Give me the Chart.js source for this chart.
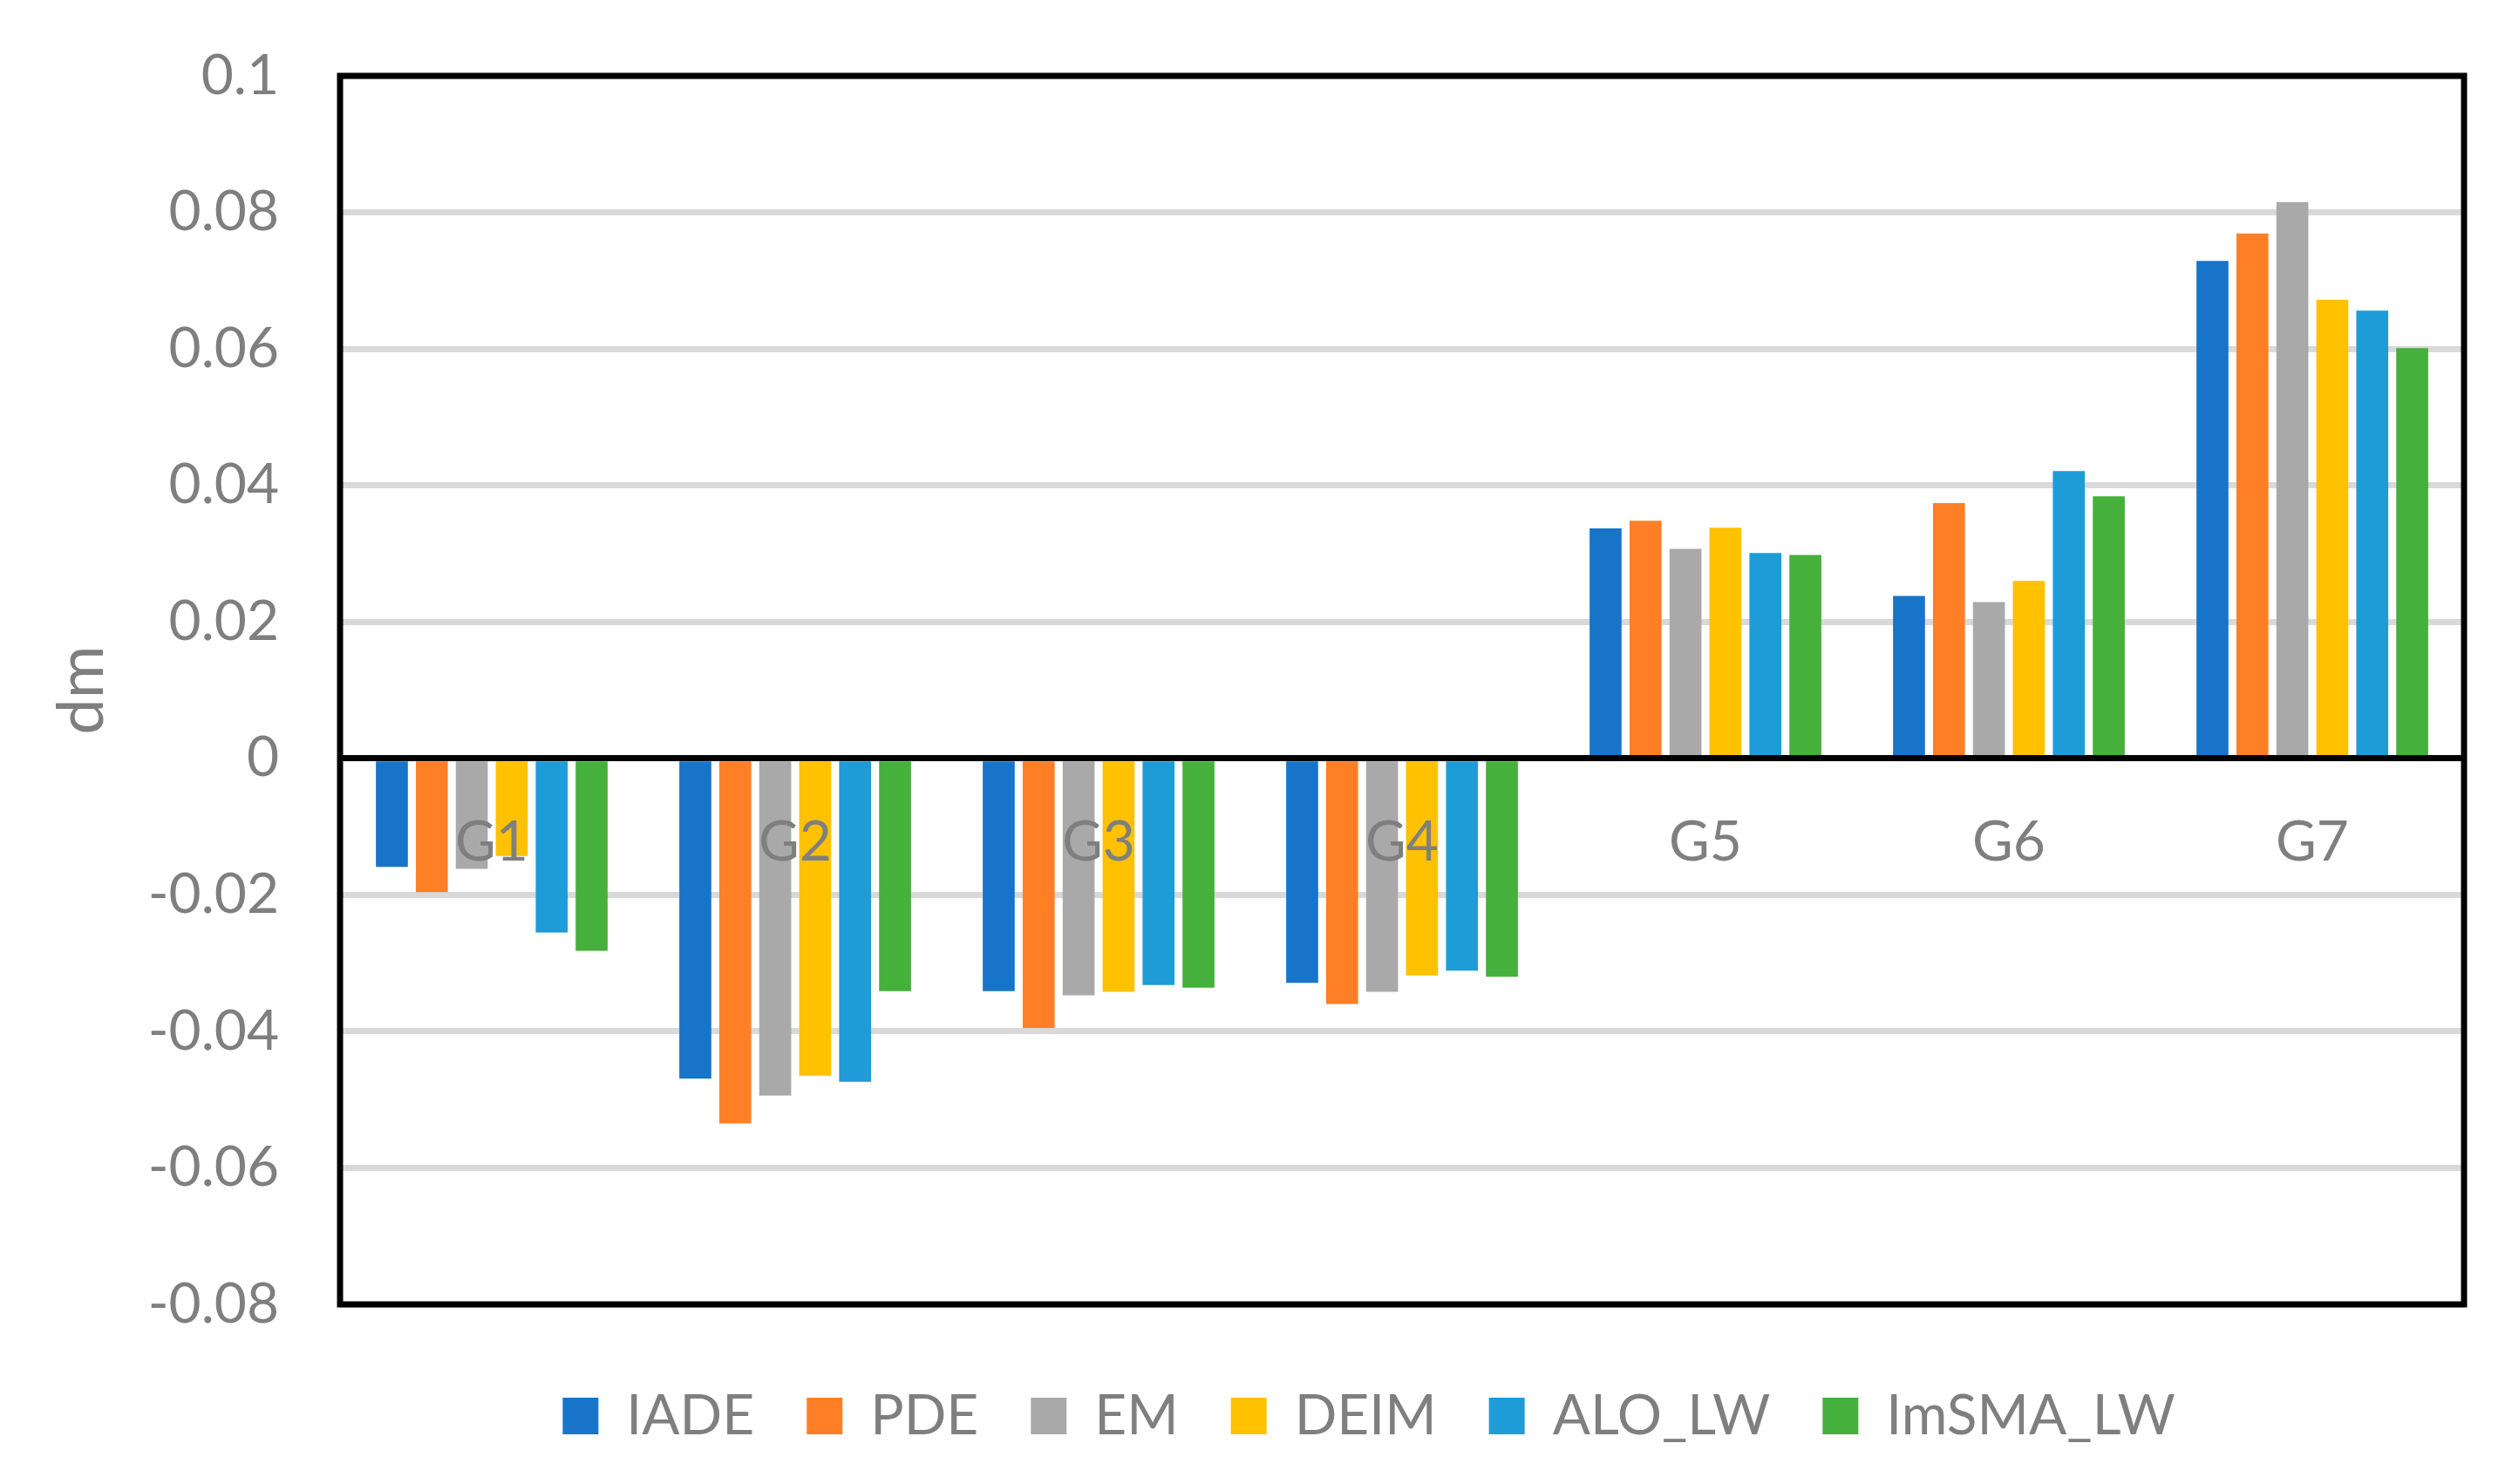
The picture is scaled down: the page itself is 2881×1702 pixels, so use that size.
<!DOCTYPE html>
<html>
<head>
<meta charset="utf-8">
<script src="https://cdn.jsdelivr.net/npm/chart.js@4.4.1/dist/chart.umd.min.js"></script>
<style>
  html, body { margin: 0; padding: 0; background: #fff; }
  canvas { display: block; }
</style>
</head>
<body>
<canvas id="chartArea" width="2881" height="1702"></canvas>
<script>
// data
var categories = ['G1', 'G2', 'G3', 'G4', 'G5', 'G6', 'G7'];
var seriesNames = ['IADE', 'PDE', 'EM', 'DEIM', 'ALO_LW', 'ImSMA_LW'];
var iade    = [-0.0159, -0.0469, -0.0341, -0.0329, 0.0337, 0.0238, 0.0729];
var pde     = [-0.0196, -0.0535, -0.0395, -0.0360, 0.0348, 0.0374, 0.0769];
var em      = [-0.0162, -0.0494, -0.0347, -0.0342, 0.0307, 0.0229, 0.0815];
var deim    = [-0.0143, -0.0465, -0.0342, -0.0318, 0.0338, 0.0260, 0.0672];
var aloLw   = [-0.0255, -0.0474, -0.0332, -0.0311, 0.0301, 0.0421, 0.0656];
var imsmaLw = [-0.0282, -0.0341, -0.0336, -0.0320, 0.0298, 0.0384, 0.0601];
var yTicks = [-0.08, -0.06, -0.04, -0.02, 0, 0.02, 0.04, 0.06, 0.08, 0.1];
var yTitle = 'dm';

var colors = ['#1874c8', '#ff7f27', '#a9a9a9', '#ffc100', '#1e9cd8', '#45b03b'];
var FONT = 'Lato';
var GREY = '#7f7f7f';

var seriesValues = [iade, pde, em, deim, aloLw, imsmaLw];
var datasets = seriesNames.map(function(name, i) {
    return {
        label: name,
        data: seriesValues[i],
        backgroundColor: colors[i],
        borderWidth: 0,
        barPercentage: 0.8,
        categoryPercentage: 0.79
    };
});

// black frame round the plot area
var framePlugin = {
    id: 'frame',
    afterDraw: function(chart) {
        var a = chart.chartArea, ctx = chart.ctx;
        ctx.save();
        ctx.strokeStyle = '#000';
        ctx.lineWidth = 7;
        ctx.strokeRect(a.left, a.top, a.right - a.left, a.bottom - a.top);
        ctx.restore();
    }
};

// nudge the legend to where the reference has it
var legendShift = {
    id: 'legendShift',
    afterLayout: function(chart) {
        var l = chart.legend;
        l.left -= 38; l.right -= 38;
        l.top += 36; l.bottom += 36;
    }
};

var config = {
    type: 'bar',
    data: { labels: categories, datasets: datasets },
    options: {
        responsive: false,
        animation: false,
        devicePixelRatio: 1,
        layout: { padding: { left: 0, right: 55, top: 87, bottom: 72 } },
        plugins: {
            tooltip: { enabled: false },
            legend: {
                position: 'bottom',
                fullSize: false,
                labels: {
                    boxWidth: 41,
                    boxHeight: 42,
                    padding: 60,
                    color: GREY,
                    font: { family: FONT, size: 64 }
                }
            }
        },
        scales: {
            x: {
                position: { y: 0 },
                grid: { display: false },
                border: { display: true, color: '#000', width: 7, z: 1 },
                ticks: {
                    z: 1,
                    padding: 50,
                    color: GREY,
                    font: { family: FONT, size: 64 },
                    maxRotation: 0
                }
            },
            y: {
                min: -0.08,
                max: 0.1,
                afterFit: function(scale) {
                    scale.width = 390;
                    scale.paddingTop = 40;
                    scale.paddingBottom = 40;
                },
                grid: { color: '#d9d9d9', lineWidth: 7, drawTicks: false },
                border: { display: false },
                ticks: {
                    stepSize: 0.02,
                    padding: 70,
                    color: GREY,
                    font: { family: FONT, size: 64 },
                    callback: function(value) {
                        var t = yTicks.find(function(v) { return Math.abs(v - value) < 1e-9; });
                        return t === undefined ? '' : String(t);
                    }
                },
                title: {
                    display: true,
                    text: yTitle,
                    color: GREY,
                    padding: { top: 50, bottom: 0 },
                    font: { family: FONT, size: 74, lineHeight: 1.2 }
                }
            }
        }
    },
    plugins: [framePlugin, legendShift]
};

var ctx = document.getElementById('chartArea').getContext('2d');
window.myBar = new Chart(ctx, config);
</script>
</body>
</html>
